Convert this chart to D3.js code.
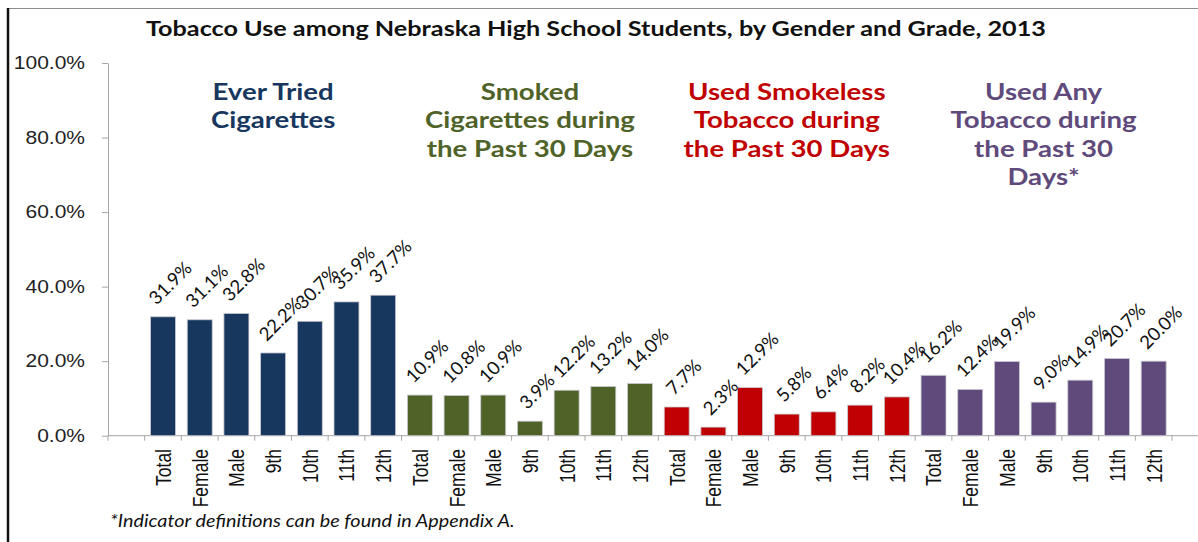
<!DOCTYPE html>
<meta charset="utf-8">
<style>
  body { margin: 0; background: #fff; }
  svg { display: block; }
  .calibri { font-family: Lato, "Open Sans", sans-serif; }
  .arial { font-family: "Liberation Sans", Arial, sans-serif; }
</style>
<body>
<svg id="chart" width="1198" height="542"></svg>
<script src="https://cdn.jsdelivr.net/npm/d3@7"></script>
<script>
// data
var categories = ["Total", "Female", "Male", "9th", "10th", "11th", "12th"];
var groupTitles = [
  ["Ever Tried", "Cigarettes"],
  ["Smoked", "Cigarettes during", "the Past 30 Days"],
  ["Used Smokeless", "Tobacco during", "the Past 30 Days"],
  ["Used Any", "Tobacco during", "the Past 30", "Days*"]
];
var everTried   = [31.9, 31.1, 32.8, 22.2, 30.7, 35.9, 37.7];
var smoked30    = [10.9, 10.8, 10.9, 3.9, 12.2, 13.2, 14.0];
var smokeless30 = [7.7, 2.3, 12.9, 5.8, 6.4, 8.2, 10.4];
var anyTobacco  = [16.2, 12.4, 19.9, 9.0, 14.9, 20.7, 20.0];
var groupColors = ["#17375E", "#4F6228", "#C00000", "#604A7B"];
var yTicks = [0, 20, 40, 60, 80, 100];
var title = "Tobacco Use among Nebraska High School Students, by Gender and Grade, 2013";
var footnote = "*Indicator definitions can be found in Appendix A.";

var series = [everTried, smoked30, smokeless30, anyTobacco];
var rows = [];
series.forEach(function(vals, g) {
  vals.forEach(function(v, i) {
    rows.push({key: g + "-" + i, group: g, cat: categories[i], value: v});
  });
});

var SX = 1.2; // the source picture is stretched sideways
var svg = d3.select("#chart");

var left = 108, y0 = 435.7, yTop = 63;
var slots = ["padL"].concat(rows.map(function(d) { return d.key; })).concat(["padR"]);
var step = 36.69;
var x = d3.scaleBand()
    .domain(slots)
    .range([left, left + slots.length * step]);
var y = d3.scaleLinear()
    .domain([0, 100])
    .range([y0, yTop]);
var barW = x.bandwidth() * 0.68;

// frame
svg.append("line")
    .attr("x1", 8).attr("x2", 1198).attr("y1", 8.5).attr("y2", 8.5)
    .attr("stroke", "#8c8c8c").attr("stroke-width", 1);
svg.append("line")
    .attr("x1", 8).attr("x2", 8).attr("y1", 8).attr("y2", 542)
    .attr("stroke", "#111").attr("stroke-width", 2.5);

// title
svg.append("text")
    .attr("class", "calibri")
    .attr("transform", "translate(146,35.5) scale(" + SX + ",1)")
    .style("font-size", "21px").style("font-weight", "bold")
    .attr("fill", "#111")
    .text(title);

// y axis
var yAxis = svg.append("g")
    .attr("transform", "translate(" + left + ",0)")
    .call(d3.axisLeft(y).tickValues(yTicks).tickSize(6).tickSizeOuter(0)
      .tickFormat(function(d) { return d.toFixed(1) + "%"; }));
yAxis.select(".domain").attr("stroke", "#a6a6a6");
yAxis.selectAll(".tick line").attr("stroke", "#a6a6a6");
yAxis.selectAll(".tick text")
    .attr("class", "arial")
    .attr("x", 0)
    .attr("transform", "translate(-23,0) scale(" + SX + ",1)")
    .style("font-size", "17.5px")
    .attr("fill", "#222");

// x axis: baseline with ticks on slot boundaries
svg.append("line")
    .attr("x1", left).attr("x2", 1198).attr("y1", y0).attr("y2", y0)
    .attr("stroke", "#a6a6a6");
svg.selectAll(".xtick")
    .data(slots)
    .enter().append("line")
    .attr("class", "xtick")
    .attr("x1", function(d) { return x(d); })
    .attr("x2", function(d) { return x(d); })
    .attr("y1", y0).attr("y2", y0 + 5)
    .attr("stroke", "#a6a6a6");

// bars
svg.selectAll(".bar")
    .data(rows)
    .enter().append("rect")
    .attr("class", "bar")
    .attr("x", function(d) { return x(d.key) + (x.bandwidth() - barW) / 2; })
    .attr("y", function(d) { return y(d.value); })
    .attr("width", barW)
    .attr("height", function(d) { return y0 - y(d.value); })
    .attr("fill", function(d) { return groupColors[d.group]; })
    .attr("stroke", "#c8c8d0")
    .attr("stroke-width", 0.8);

// category labels
svg.selectAll(".cat")
    .data(rows)
    .enter().append("text")
    .attr("class", "arial")
    .attr("transform", function(d) {
      return "translate(" + (x(d.key) + x.bandwidth() / 2) + ",449) scale(1.3,1) rotate(-90)";
    })
    .attr("text-anchor", "end")
    .attr("dy", "0.35em")
    .style("font-size", "17.5px")
    .attr("fill", "#111")
    .text(function(d) { return d.cat; });

// value labels, rotated 45 degrees, box centred a little right of the bar
var valSize = 18.5;
var vl = svg.selectAll(".val")
    .data(rows)
    .enter().append("text")
    .attr("class", "calibri")
    .style("font-size", valSize + "px")
    .attr("fill", "#111")
    .text(function(d) { return d.value.toFixed(1) + "%"; });
var capH = valSize * 0.72, k = Math.SQRT1_2;
vl.attr("transform", function(d) {
  var L = this.getComputedTextLength();
  var cx = x(d.key) + x.bandwidth() / 2 + 7;
  var ox = cx - k * (L - capH) / 2;
  var oy = y(d.value) - 11;
  return "translate(" + ox + "," + oy + ") rotate(-45)";
});

// group titles
groupTitles.forEach(function(lines, g) {
  var first = x(g + "-0"), last = x(g + "-6") + x.bandwidth();
  var cx = (first + last) / 2;
  var t = svg.append("text")
      .attr("class", "calibri")
      .attr("transform", "translate(" + cx + ",100) scale(" + SX + ",1)")
      .attr("text-anchor", "middle")
      .style("font-size", "23px").style("font-weight", "bold")
      .attr("fill", groupColors[g]);
  t.selectAll("tspan")
      .data(lines)
      .enter().append("tspan")
      .attr("x", 0)
      .attr("y", function(d, i) { return i * 28.3; })
      .text(function(d) { return d; });
});

// footnote
svg.append("text")
    .attr("class", "calibri")
    .attr("transform", "translate(110,526.5) scale(" + SX + ",1)")
    .style("font-size", "16.5px").style("font-style", "italic")
    .attr("fill", "#111")
    .text(footnote);
</script>
</body>
